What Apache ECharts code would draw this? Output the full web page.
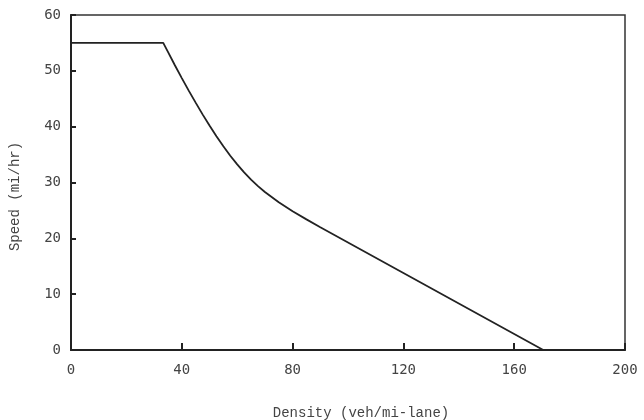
<!DOCTYPE html>
<html>
<head>
<meta charset="utf-8">
<script src="https://cdn.jsdelivr.net/npm/echarts@6/dist/echarts.min.js"></script>
<style>html,body{margin:0;padding:0;background:#fff}#c{width:644px;height:420px}</style>
</head>
<body>
<div id="c"></div>
<script>
var density = [0, 33.3, 35, 37.5, 40, 42.5, 45, 47.5, 50, 52.5, 55, 57.5, 60, 62.5, 65, 67.5, 70, 75, 80, 85, 90, 120, 170.5];
var speed   = [55, 55, 53.4, 51.0, 48.7, 46.45, 44.3, 42.2, 40.2, 38.3, 36.5, 34.8, 33.25, 31.8, 30.5, 29.35, 28.3, 26.45, 24.85, 23.4, 22.0, 13.8, 0];
var xTicks = [0, 40, 80, 120, 160, 200];
var yTicks = [0, 10, 20, 30, 40, 50, 60];

var data = density.map(function (d, i) { return [d, speed[i]]; });
var chart = echarts.init(document.getElementById('c'));
chart.setOption({
  animation: false,
  backgroundColor: '#fff',
  grid: { left: 71, right: 19, top: 15, bottom: 70, containLabel: false, outerBoundsMode: 'none', show: true, borderColor: '#333', borderWidth: 1.5 },
  xAxis: {
    type: 'value', min: xTicks[0], max: xTicks[xTicks.length - 1], interval: 40,
    name: 'Density (veh/mi-lane)', nameLocation: 'middle', nameGap: 56,
    nameTextStyle: { fontFamily: 'Liberation Mono', fontSize: 14, color: '#444', padding: [0, 0, 0, 26] },
    axisLine: { show: true, lineStyle: { color: '#222', width: 2 } },
    axisTick: { show: true, inside: true, length: 7, lineStyle: { color: '#222', width: 2 } },
    axisLabel: { fontFamily: 'DejaVu Sans Mono', fontSize: 14, color: '#444', margin: 13 },
    splitLine: { show: false }
  },
  yAxis: {
    type: 'value', min: yTicks[0], max: yTicks[yTicks.length - 1], interval: 10,
    name: 'Speed (mi/hr)', nameLocation: 'middle', nameGap: 49,
    nameTextStyle: { fontFamily: 'Liberation Mono', fontSize: 14, color: '#444', padding: [0, 28, 0, 0] },
    axisLine: { show: true, lineStyle: { color: '#222', width: 2 } },
    axisTick: { show: true, inside: true, length: 5, lineStyle: { color: '#222', width: 2 } },
    axisLabel: { fontFamily: 'DejaVu Sans Mono', fontSize: 14, color: '#444', margin: 10 },
    splitLine: { show: false }
  },
  series: [{
    type: 'line', data: data, smooth: false, showSymbol: false,
    lineStyle: { color: '#222', width: 1.8 }
  }]
});
</script>
</body>
</html>
